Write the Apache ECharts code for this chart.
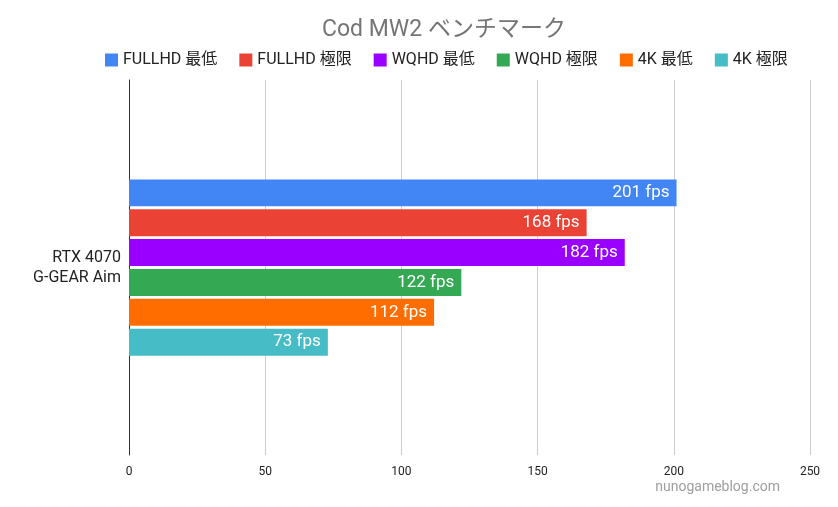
<!DOCTYPE html>
<html>
<head>
<meta charset="utf-8">
<script src="https://cdn.jsdelivr.net/npm/echarts@6/dist/echarts.min.js"></script>
<style>html,body{margin:0;padding:0;background:#fff}#c{width:838px;height:507px}</style>
</head>
<body>
<div id="c"></div>
<script>
const categories = ['RTX 4070\nG-GEAR Aim'];
const seriesNames = ['FULLHD 最低', 'FULLHD 極限', 'WQHD 最低', 'WQHD 極限', '4K 最低', '4K 極限'];
const seriesValues = [[201], [168], [182], [122], [112], [73]];
const colors = ['#4285F4', '#EA4335', '#9900FF', '#34A853', '#FF6D01', '#46BDC6'];
const xTicks = [0, 50, 100, 150, 200, 250];

const font = 'Roboto, "Noto Sans CJK JP", sans-serif';
const chart = echarts.init(document.getElementById('c'), null, {renderer: 'canvas'});
chart.setOption({
  animation: false,
  color: colors,
  textStyle: {fontFamily: font},
  title: {
    text: 'Cod MW2 ベンチマーク',
    left: 317, top: 14,
    textStyle: {fontSize: 23, fontWeight: 'normal', color: '#757575', fontFamily: font}
  },
  legend: {
    top: 47, left: 100,
    itemWidth: 13, itemHeight: 13, itemGap: 22,
    icon: 'rect',
    textStyle: {fontSize: 16, color: '#222', fontFamily: font},
    data: seriesNames
  },
  graphic: [{
    type: 'text', right: 58, top: 481,
    style: {text: 'nunogameblog.com', fill: '#9e9e9e', fontSize: 14, fontFamily: font}
  }],
  grid: {left: 129, right: 28, top: 80, bottom: 52, containLabel: false},
  xAxis: {
    type: 'value', min: xTicks[0], max: xTicks[xTicks.length - 1], interval: 50,
    axisLine: {show: false}, axisTick: {show: false},
    axisLabel: {fontSize: 12, color: '#222', margin: 11, fontFamily: font},
    splitLine: {lineStyle: {color: '#cccccc', width: 1}}
  },
  yAxis: {
    type: 'category', data: categories, inverse: true,
    axisLine: {show: true, lineStyle: {color: '#333', width: 1}},
    axisTick: {show: false},
    axisLabel: {fontSize: 16, color: '#222', margin: 8, lineHeight: 20, padding: [5, 0, 0, 0], fontFamily: font}
  },
  series: seriesNames.map((n, i) => ({
    name: n, type: 'bar', data: seriesValues[i],
    barGap: '11%', barCategoryGap: '53%',
    label: {
      show: true, position: 'insideRight', distance: 7,
      formatter: p => p.value + ' fps',
      color: '#fff', fontSize: 17, fontFamily: font
    }
  }))
});
</script>
</body>
</html>
